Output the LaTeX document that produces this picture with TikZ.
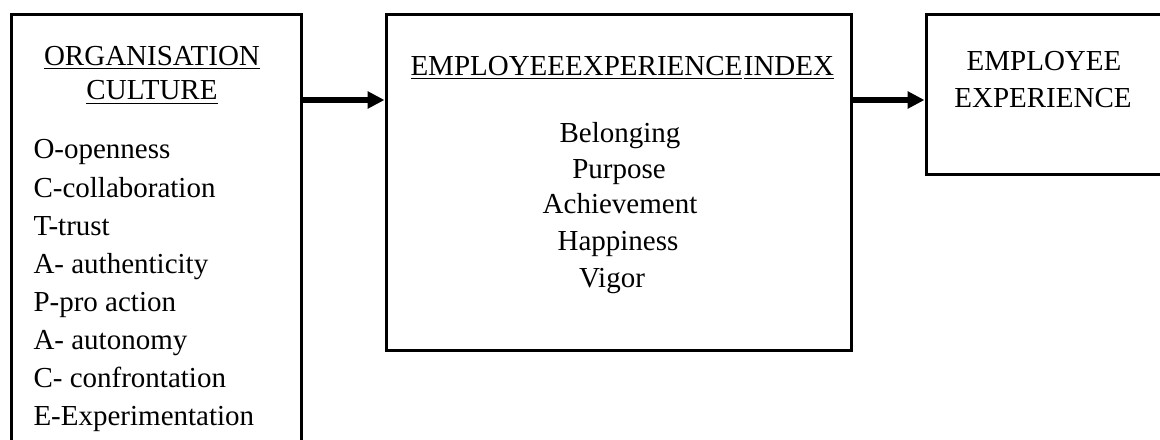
\documentclass[tikz,border=0pt]{standalone}
\usepackage{fontspec}
\setmainfont{Liberation Serif}
\usetikzlibrary{arrows.meta}

\begin{document}
\begin{tikzpicture}[x=0.4pt,y=-0.4pt]
\tikzset{box/.style={draw, line width=1.2pt, inner sep=0pt},
         flow/.style={line width=2.4pt, -{Triangle[length=6.8pt,width=6.6pt]}},
         txt/.style={inner sep=0pt, font=\fontsize{11.6}{14}\selectfont}}
    \useasboundingbox (0,0) rectangle (1160,440);
    \clip (0,0) rectangle (1160,440);

    \node[box, minimum width=115.6pt, minimum height=182pt] at (156.5,242.5) (orgbox) {};
    \node[box, minimum width=186pt, minimum height=134pt] at (618.5,182.5) (eeibox) {};
    \node[box, minimum width=105.6pt, minimum height=63.6pt] at (1058,94.5) (eebox) {};

    % organisation culture
    \node[txt, anchor=base] at (152,65) (orgtitle) {\underline{ORGANISATION}};
    \node[txt, anchor=base] at (152,100) (orgtitle2) {\underline{CULTURE}};
    \node[txt, anchor=base west] at (33,158) (open) {O-openness};
    \node[txt, anchor=base west] at (33,197) (collab) {C-collaboration};
    \node[txt, anchor=base west] at (33,235) (trust) {T-trust};
    \node[txt, anchor=base west] at (33,273) (authen) {A- authenticity};
    \node[txt, anchor=base west] at (33,311) (proact) {P-pro action};
    \node[txt, anchor=base west] at (33,349) (auton) {A- autonomy};
    \node[txt, anchor=base west] at (33,387) (confr) {C- confrontation};
    \node[txt, anchor=base west] at (33,425) (exper) {E-Experimentation};

    % experience index
    \node[txt, anchor=base west] at (410,75) (eeititle) {\underline{EMPLOYEEEXPERIENCE}\kern0.6pt\underline{INDEX}};
    \node[txt, anchor=base] at (620,142) (belong) {Belonging};
    \node[txt, anchor=base] at (619,178) (purpose) {Purpose};
    \node[txt, anchor=base] at (620,213) (achieve) {Achievement};
    \node[txt, anchor=base] at (618,250) (happy) {Happiness};
    \node[txt, anchor=base] at (612,287) (vigor) {Vigor};

    % employee experience
    \node[txt, anchor=base] at (1044,70) (eetitle) {EMPLOYEE};
    \node[txt, anchor=base] at (1043,107) (eetitle2) {EXPERIENCE};

    \draw[flow] (orgbox.east |- 0,100) -- (eeibox.west |- 0,100);
    \draw[flow] (eeibox.east |- 0,100) -- (eebox.west |- 0,100);

  \end{tikzpicture}
\end{document}
